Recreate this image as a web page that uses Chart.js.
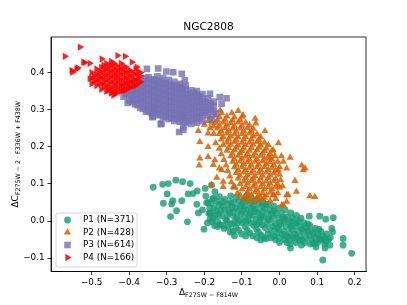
<!DOCTYPE html>
<html>
<head>
<meta charset="UTF-8">
<title>NGC2808</title>
<script src="https://cdn.jsdelivr.net/npm/chart.js"></script>
<style>
  body { margin: 0; background: #fff; }
  canvas { display: block; }
</style>
</head>
<body>
<canvas id="chart" width="407" height="305"></canvas>
<script>
const labels = ['P1 (N=371)', 'P2 (N=428)', 'P3 (N=614)', 'P4 (N=166)'];
const xTicks = [-0.5, -0.4, -0.3, -0.2, -0.1, 0.0, 0.1, 0.2];
const yTicks = [-0.1, 0.0, 0.1, 0.2, 0.3, 0.4];
const xRange = [-0.608, 0.230];
const yRange = [-0.136, 0.496];

// P1 (circles)
const p1 = [
  [-0.336,0.091],[-0.311,0.099],[-0.296,0.101],[-0.276,0.110],[-0.258,0.106],[-0.238,0.101],[-0.299,0.073],
  [-0.309,0.048],[-0.287,0.046],[-0.284,0.055],[-0.260,0.055],[-0.274,0.028],[-0.290,0.012],[-0.245,-0.002],
  [-0.201,-0.022],[-0.216,0.022],[-0.220,0.045],[-0.243,0.073],[-0.230,0.074],[-0.219,0.081],[-0.198,0.088],
  [-0.196,0.067],[-0.172,0.079],[-0.181,0.097],[-0.194,0.049],[-0.185,0.021],[-0.205,0.030],[-0.178,0.060],
  [-0.190,0.050],[-0.188,0.020],[-0.192,-0.005],[-0.175,0.062],[-0.174,0.035],[-0.177,0.008],[-0.173,-0.012],
  [-0.160,0.045],[-0.162,0.018],[-0.158,-0.010],[-0.145,0.058],[-0.146,0.030],[-0.143,0.004],[-0.147,-0.020],
  [-0.130,0.050],[-0.132,0.022],[-0.128,-0.008],[-0.131,-0.030],[-0.115,0.064],[-0.117,0.036],[-0.113,0.010],
  [-0.116,-0.018],[-0.100,0.045],[-0.102,0.020],[-0.098,-0.005],[-0.101,-0.035],[-0.085,0.055],[-0.087,0.030],
  [-0.083,0.002],[-0.086,-0.025],[-0.070,0.040],[-0.072,0.015],[-0.068,-0.012],[-0.071,-0.040],[-0.055,0.048],
  [-0.057,0.022],[-0.053,-0.003],[-0.056,-0.030],[-0.040,0.035],[-0.042,0.008],[-0.038,-0.018],[-0.041,-0.045],
  [-0.025,0.030],[-0.027,0.002],[-0.023,-0.025],[-0.010,0.022],[-0.012,-0.005],[-0.008,-0.032],[-0.011,-0.050],
  [0.005,0.020],[0.003,-0.010],[0.007,-0.035],[0.020,0.012],[0.018,-0.015],[0.022,-0.042],[0.019,-0.058],
  [0.035,0.008],[0.033,-0.022],[0.037,-0.045],[0.050,0.000],[0.048,-0.028],[0.052,-0.052],[0.065,-0.005],
  [0.063,-0.030],[0.067,-0.058],[0.080,-0.012],[0.078,-0.038],[0.082,-0.062],[0.095,-0.020],[0.093,-0.045],
  [0.097,-0.070],[0.110,-0.028],[0.108,-0.050],[0.125,-0.035],[0.123,-0.055],
  [-0.182,0.048],[-0.183,0.022],[-0.180,-0.002],[-0.167,0.052],[-0.168,0.028],[-0.165,0.000],[-0.152,0.040],
  [-0.153,0.014],[-0.151,-0.012],[-0.137,0.045],[-0.138,0.015],[-0.136,-0.015],[-0.122,0.050],[-0.123,0.024],
  [-0.121,-0.004],[-0.124,-0.028],[-0.107,0.055],[-0.108,0.028],[-0.106,0.002],[-0.109,-0.025],[-0.092,0.040],
  [-0.093,0.012],[-0.091,-0.015],[-0.077,0.048],[-0.078,0.022],[-0.076,-0.005],[-0.079,-0.032],[-0.062,0.032],
  [-0.063,0.005],[-0.061,-0.022],[-0.047,0.040],[-0.048,0.015],[-0.046,-0.010],[-0.049,-0.038],[-0.032,0.020],
  [-0.033,-0.008],[-0.031,-0.035],[-0.017,0.012],[-0.018,-0.015],[-0.016,-0.040],[-0.002,0.008],[-0.003,-0.022],
  [-0.001,-0.045],[0.012,0.000],[0.011,-0.028],[0.013,-0.050],[0.027,-0.005],[0.026,-0.032],[0.028,-0.050],
  [0.042,-0.012],[0.041,-0.036],[0.043,-0.058],[0.057,-0.015],[0.056,-0.042],[0.058,-0.065],[0.072,-0.020],
  [0.071,-0.046],[0.087,-0.028],[0.086,-0.052],[0.102,-0.035],[0.101,-0.058],[0.117,-0.042],
  [-0.186,0.035],[-0.170,0.015],[-0.156,0.030],[-0.140,0.000],[-0.126,0.036],[-0.112,-0.005],[-0.095,0.058],
  [-0.096,0.028],[-0.081,0.015],[-0.066,0.054],[-0.066,0.026],[-0.051,0.010],[-0.036,0.045],[-0.036,-0.048],
  [-0.021,0.018],[-0.006,-0.018],[0.009,0.010],[0.016,-0.040],[0.031,0.000],[0.045,-0.045],[0.060,-0.050],
  [0.075,-0.028],[0.090,-0.060],[0.105,-0.045],[0.120,-0.062],[-0.023,-0.045],[0.000,-0.058],[-0.060,-0.045],
  [-0.090,-0.040],[-0.120,-0.040],
  [-0.030,0.045],[-0.015,0.040],[0.000,0.035],[0.015,0.030],[0.030,0.022],[0.045,0.015],[-0.045,0.052],
  [-0.060,0.058],[-0.075,0.062],[-0.090,0.066],[-0.130,0.068],[-0.160,0.066],
  [-0.185,0.005],[-0.165,-0.015],[-0.150,0.052],[-0.135,0.030],[-0.120,0.012],[-0.105,0.040],[-0.090,0.000],
  [-0.075,0.035],[-0.060,-0.008],[-0.045,0.025],[-0.030,0.005],[-0.015,0.028],[0.000,-0.005],[0.015,0.005],
  [0.030,-0.015],[0.045,-0.005],[0.060,-0.022],[0.075,-0.008],[0.090,-0.035],[0.105,-0.022],[0.120,-0.048],
  [0.135,-0.045],[0.130,-0.050],
  [-0.050,-0.051],[0.028,-0.062],[0.029,-0.073],[0.079,0.013],[0.107,0.013],[0.123,0.005],[0.143,0.009],
  [0.139,-0.020],[0.141,-0.029],[0.169,-0.047],[0.169,-0.065],[0.192,-0.087],[0.115,-0.105],[0.134,-0.065],
  [0.121,-0.073],[0.112,-0.051],[0.094,-0.060],[0.057,0.008]
];

// P2 (triangles)
const p2 = [
  [-0.160,0.280],[-0.140,0.282],[-0.120,0.279],[-0.100,0.281],
  [-0.170,0.265],[-0.150,0.266],[-0.130,0.264],[-0.110,0.266],[-0.090,0.265],
  [-0.165,0.250],[-0.145,0.251],[-0.125,0.249],[-0.105,0.250],[-0.085,0.251],[-0.070,0.249],
  [-0.160,0.235],[-0.140,0.236],[-0.120,0.234],[-0.100,0.235],[-0.080,0.236],[-0.060,0.234],
  [-0.155,0.220],[-0.135,0.221],[-0.115,0.219],[-0.095,0.220],[-0.075,0.221],[-0.055,0.219],
  [-0.150,0.205],[-0.130,0.206],[-0.110,0.204],[-0.090,0.205],[-0.070,0.206],[-0.050,0.204],[-0.030,0.205],
  [-0.140,0.190],[-0.120,0.191],[-0.100,0.189],[-0.080,0.190],[-0.060,0.191],[-0.040,0.189],[-0.020,0.190],
  [-0.130,0.175],[-0.110,0.176],[-0.090,0.174],[-0.070,0.175],[-0.050,0.176],[-0.030,0.174],[-0.012,0.175],
  [-0.125,0.160],[-0.105,0.161],[-0.085,0.159],[-0.065,0.160],[-0.045,0.161],[-0.025,0.159],[-0.005,0.160],
  [-0.120,0.145],[-0.100,0.146],[-0.080,0.144],[-0.060,0.145],[-0.040,0.146],[-0.020,0.144],[0.000,0.145],
  [-0.115,0.130],[-0.095,0.131],[-0.075,0.129],[-0.055,0.130],[-0.035,0.131],[-0.015,0.129],
  [-0.110,0.115],[-0.090,0.116],[-0.070,0.114],[-0.050,0.115],[-0.030,0.116],[-0.010,0.114],
  [-0.105,0.100],[-0.085,0.101],[-0.065,0.099],[-0.045,0.100],[-0.025,0.101],[-0.005,0.099],
  [-0.100,0.085],[-0.080,0.086],[-0.060,0.084],[-0.040,0.085],[-0.020,0.086],
  [-0.075,0.070],[-0.055,0.071],[-0.035,0.069],[-0.015,0.070],
  [-0.065,0.055],[-0.045,0.056],[-0.025,0.054],
  [-0.165,0.272],[-0.145,0.273],[-0.125,0.271],[-0.105,0.272],
  [-0.160,0.257],[-0.140,0.258],[-0.120,0.256],[-0.100,0.257],[-0.080,0.258],
  [-0.155,0.242],[-0.135,0.243],[-0.115,0.241],[-0.095,0.242],[-0.075,0.243],
  [-0.150,0.227],[-0.130,0.228],[-0.110,0.226],[-0.090,0.227],[-0.070,0.228],[-0.050,0.226],
  [-0.140,0.212],[-0.120,0.213],[-0.100,0.211],[-0.080,0.212],[-0.060,0.213],[-0.040,0.211],
  [-0.135,0.197],[-0.115,0.198],[-0.095,0.196],[-0.075,0.197],[-0.055,0.198],[-0.035,0.196],
  [-0.125,0.182],[-0.105,0.183],[-0.085,0.181],[-0.065,0.182],[-0.045,0.183],[-0.025,0.181],
  [-0.120,0.167],[-0.100,0.168],[-0.080,0.166],[-0.060,0.167],[-0.040,0.168],[-0.020,0.166],
  [-0.115,0.152],[-0.095,0.153],[-0.075,0.151],[-0.055,0.152],[-0.035,0.153],[-0.015,0.151],
  [-0.110,0.137],[-0.090,0.138],[-0.070,0.136],[-0.050,0.137],[-0.030,0.138],[-0.010,0.136],
  [-0.105,0.122],[-0.085,0.123],[-0.065,0.121],[-0.045,0.122],[-0.025,0.123],
  [-0.095,0.107],[-0.075,0.108],[-0.055,0.106],[-0.035,0.107],[-0.015,0.108],
  [-0.090,0.092],[-0.070,0.093],[-0.050,0.091],[-0.030,0.092],[-0.010,0.093],
  [-0.085,0.077],[-0.065,0.078],[-0.045,0.076],[-0.025,0.077],
  [-0.060,0.062],[-0.040,0.063],
  [-0.170,0.210],[-0.160,0.195],[-0.155,0.180],[-0.148,0.165],[-0.142,0.150],[-0.138,0.135],[-0.132,0.120],
  [-0.128,0.105],[-0.120,0.090],[-0.112,0.075],[-0.175,0.235],[-0.180,0.265],[-0.185,0.280],[-0.172,0.285],
  [-0.105,0.070],[-0.095,0.060],[-0.080,0.055],[0.000,0.125],[0.003,0.110],[0.000,0.090],[-0.005,0.075],
  [-0.010,0.060],[0.005,0.175],[0.010,0.160],[-0.190,0.270],[-0.200,0.260],[-0.185,0.250],
  [-0.154,0.291],[-0.127,0.291],[-0.110,0.297],[-0.097,0.285],[-0.065,0.276],[-0.063,0.263],[-0.039,0.242],
  [-0.003,0.210],[0.028,0.171],[0.059,0.150],[0.068,0.142],[0.041,0.108],[-0.216,0.243],[-0.212,0.213],
  [-0.190,0.200],[-0.212,0.169],[-0.214,0.150],[-0.190,0.173],[-0.172,0.164],[-0.176,0.151],[-0.160,0.142],
  [-0.167,0.117],[-0.150,0.106],[-0.181,0.097],[-0.119,0.092],[-0.150,0.092],[-0.123,0.092],[-0.088,0.070],
  [-0.052,0.065],[-0.017,0.070],[0.019,0.070],[0.081,0.067],[0.094,0.065],[0.006,0.043],[0.019,0.052],
  [0.063,0.137],[0.045,0.079],[0.008,0.094],[0.023,0.070],[0.010,0.043],[-0.083,0.070],[-0.176,0.255],
  [-0.190,0.236],[-0.158,0.298],[-0.154,0.137],[-0.003,0.137],[0.019,0.142],[-0.026,0.169],[-0.017,0.191]
];

// P3 (squares)
const p3 = [
  [-0.415,0.335],[-0.415,0.350],[-0.415,0.365],
  [-0.400,0.325],[-0.400,0.340],[-0.400,0.355],[-0.400,0.370],
  [-0.385,0.315],[-0.385,0.330],[-0.385,0.345],[-0.385,0.360],[-0.385,0.375],
  [-0.370,0.305],[-0.370,0.320],[-0.370,0.335],[-0.370,0.350],[-0.370,0.365],[-0.370,0.380],
  [-0.355,0.295],[-0.355,0.310],[-0.355,0.325],[-0.355,0.340],[-0.355,0.355],[-0.355,0.370],[-0.355,0.385],
  [-0.340,0.290],[-0.340,0.305],[-0.340,0.320],[-0.340,0.335],[-0.340,0.350],[-0.340,0.365],[-0.340,0.380],
  [-0.325,0.285],[-0.325,0.300],[-0.325,0.315],[-0.325,0.330],[-0.325,0.345],[-0.325,0.360],[-0.325,0.375],[-0.325,0.390],
  [-0.310,0.280],[-0.310,0.295],[-0.310,0.310],[-0.310,0.325],[-0.310,0.340],[-0.310,0.355],[-0.310,0.370],[-0.310,0.385],
  [-0.295,0.275],[-0.295,0.290],[-0.295,0.305],[-0.295,0.320],[-0.295,0.335],[-0.295,0.350],[-0.295,0.365],[-0.295,0.380],
  [-0.280,0.270],[-0.280,0.285],[-0.280,0.300],[-0.280,0.315],[-0.280,0.330],[-0.280,0.345],[-0.280,0.360],[-0.280,0.375],
  [-0.265,0.268],[-0.265,0.283],[-0.265,0.298],[-0.265,0.313],[-0.265,0.328],[-0.265,0.343],[-0.265,0.358],[-0.265,0.370],
  [-0.250,0.265],[-0.250,0.280],[-0.250,0.295],[-0.250,0.310],[-0.250,0.325],[-0.250,0.340],[-0.250,0.355],[-0.250,0.365],
  [-0.235,0.262],[-0.235,0.277],[-0.235,0.292],[-0.235,0.307],[-0.235,0.322],[-0.235,0.337],[-0.235,0.352],
  [-0.220,0.265],[-0.220,0.280],[-0.220,0.295],[-0.220,0.310],[-0.220,0.325],[-0.220,0.340],[-0.220,0.350],
  [-0.205,0.270],[-0.205,0.285],[-0.205,0.300],[-0.205,0.315],[-0.205,0.330],[-0.205,0.342],
  [-0.190,0.285],[-0.190,0.300],[-0.190,0.315],[-0.190,0.330],
  [-0.175,0.295],[-0.175,0.310],[-0.175,0.322],
  [-0.408,0.342],[-0.408,0.357],
  [-0.393,0.322],[-0.393,0.337],[-0.393,0.352],[-0.393,0.367],
  [-0.378,0.312],[-0.378,0.327],[-0.378,0.342],[-0.378,0.357],[-0.378,0.372],
  [-0.363,0.302],[-0.363,0.317],[-0.363,0.332],[-0.363,0.347],[-0.363,0.362],[-0.363,0.377],
  [-0.348,0.297],[-0.348,0.312],[-0.348,0.327],[-0.348,0.342],[-0.348,0.357],[-0.348,0.372],[-0.348,0.387],
  [-0.333,0.292],[-0.333,0.307],[-0.333,0.322],[-0.333,0.337],[-0.333,0.352],[-0.333,0.367],[-0.333,0.382],
  [-0.318,0.287],[-0.318,0.302],[-0.318,0.317],[-0.318,0.332],[-0.318,0.347],[-0.318,0.362],[-0.318,0.377],
  [-0.303,0.282],[-0.303,0.297],[-0.303,0.312],[-0.303,0.327],[-0.303,0.342],[-0.303,0.357],[-0.303,0.372],
  [-0.288,0.277],[-0.288,0.292],[-0.288,0.307],[-0.288,0.322],[-0.288,0.337],[-0.288,0.352],[-0.288,0.367],
  [-0.273,0.275],[-0.273,0.290],[-0.273,0.305],[-0.273,0.320],[-0.273,0.335],[-0.273,0.350],[-0.273,0.365],
  [-0.258,0.272],[-0.258,0.287],[-0.258,0.302],[-0.258,0.317],[-0.258,0.332],[-0.258,0.347],[-0.258,0.360],
  [-0.243,0.270],[-0.243,0.285],[-0.243,0.300],[-0.243,0.315],[-0.243,0.330],[-0.243,0.345],
  [-0.228,0.272],[-0.228,0.287],[-0.228,0.302],[-0.228,0.317],[-0.228,0.332],[-0.228,0.345],
  [-0.213,0.277],[-0.213,0.292],[-0.213,0.307],[-0.213,0.322],[-0.213,0.336],
  [-0.198,0.292],[-0.198,0.307],[-0.198,0.322],
  [-0.183,0.300],[-0.183,0.315],
  [-0.353,0.410],[-0.323,0.411],[-0.301,0.403],[-0.283,0.401],[-0.260,0.397],[-0.252,0.379],[-0.185,0.343],
  [-0.159,0.334],[-0.141,0.331],[-0.154,0.316],[-0.337,0.282],[-0.316,0.261],[-0.267,0.240],[-0.256,0.246],
  [-0.404,0.318],[-0.331,0.303],[-0.338,0.280],[-0.314,0.263],[-0.260,0.280],[-0.256,0.254],[-0.170,0.290],
  [-0.180,0.275]
];

// P4 (right-pointing triangles)
const p4 = [
  [-0.500,0.370],[-0.500,0.385],[-0.500,0.400],
  [-0.487,0.365],[-0.487,0.380],[-0.487,0.395],[-0.487,0.410],
  [-0.474,0.355],[-0.474,0.370],[-0.474,0.385],[-0.474,0.400],[-0.474,0.415],
  [-0.461,0.350],[-0.461,0.365],[-0.461,0.380],[-0.461,0.395],[-0.461,0.410],[-0.461,0.425],
  [-0.448,0.345],[-0.448,0.360],[-0.448,0.375],[-0.448,0.390],[-0.448,0.405],[-0.448,0.420],[-0.448,0.430],
  [-0.435,0.345],[-0.435,0.360],[-0.435,0.375],[-0.435,0.390],[-0.435,0.405],[-0.435,0.420],
  [-0.422,0.350],[-0.422,0.365],[-0.422,0.380],[-0.422,0.395],[-0.422,0.410],[-0.422,0.425],
  [-0.409,0.355],[-0.409,0.370],[-0.409,0.385],[-0.409,0.400],[-0.409,0.415],
  [-0.396,0.360],[-0.396,0.375],[-0.396,0.390],[-0.396,0.405],
  [-0.383,0.365],[-0.383,0.380],[-0.383,0.395],[-0.383,0.410],
  [-0.370,0.375],[-0.370,0.390],[-0.370,0.400],
  [-0.494,0.377],[-0.494,0.392],
  [-0.481,0.372],[-0.481,0.387],[-0.481,0.402],
  [-0.468,0.362],[-0.468,0.377],[-0.468,0.392],[-0.468,0.407],[-0.468,0.420],
  [-0.455,0.357],[-0.455,0.372],[-0.455,0.387],[-0.455,0.402],[-0.455,0.417],
  [-0.442,0.352],[-0.442,0.367],[-0.442,0.382],[-0.442,0.397],[-0.442,0.412],[-0.442,0.425],
  [-0.429,0.352],[-0.429,0.367],[-0.429,0.382],[-0.429,0.397],[-0.429,0.412],
  [-0.416,0.357],[-0.416,0.372],[-0.416,0.387],[-0.416,0.402],[-0.416,0.417],
  [-0.403,0.362],[-0.403,0.377],[-0.403,0.392],[-0.403,0.407],
  [-0.390,0.367],[-0.390,0.382],[-0.390,0.397],
  [-0.377,0.372],[-0.377,0.387],[-0.377,0.402],
  [-0.531,0.469],[-0.571,0.444],[-0.518,0.427],[-0.537,0.413],[-0.551,0.401],[-0.505,0.425],[-0.473,0.437],
  [-0.431,0.446],[-0.411,0.444],[-0.393,0.428],[-0.380,0.415],[-0.456,0.352],[-0.438,0.343],[-0.411,0.352],
  [-0.505,0.384],[-0.540,0.410],[-0.522,0.428],[-0.447,0.348],[-0.442,0.339],[-0.416,0.352],[-0.553,0.406]
];

const colors = ['rgba(27,158,119,0.82)', 'rgba(217,95,2,0.86)', 'rgba(117,112,179,0.8)', 'rgba(255,0,0,0.86)'];
const FONT = '"DejaVu Sans", sans-serif';

function tickText(v) {
  const s = Math.abs(v).toFixed(1);
  return v < -1e-9 ? '\u2212' + s : s;
}

function drawSub(ctx, main, sub, cx, cy) {
  ctx.font = '9px ' + FONT;
  const w1 = ctx.measureText(main).width;
  ctx.font = '6.3px ' + FONT;
  const w2 = ctx.measureText(sub).width;
  let x = cx - (w1 + w2) / 2;
  ctx.textAlign = 'left';
  ctx.textBaseline = 'alphabetic';
  ctx.font = '9px ' + FONT;
  ctx.fillText(main, x, cy + 3);
  ctx.font = '6.3px ' + FONT;
  ctx.fillText(sub, x + w1, cy + 5);
}

function marker(ctx, i, x, y) {
  ctx.fillStyle = colors[i];
  ctx.beginPath();
  if (i === 0) {
    ctx.arc(x, y, 3.4, 0, Math.PI * 2);
  } else if (i === 1) {
    ctx.moveTo(x, y - 4.2); ctx.lineTo(x + 3.7, y + 2.1); ctx.lineTo(x - 3.7, y + 2.1);
  } else if (i === 2) {
    ctx.rect(x - 3.3, y - 3.3, 6.6, 6.6);
  } else {
    ctx.moveTo(x + 4.2, y); ctx.lineTo(x - 2.1, y - 3.7); ctx.lineTo(x - 2.1, y + 3.7);
  }
  ctx.closePath();
  ctx.fill();
}

const decor = {
  id: 'decor',
  afterDraw(chart) {
    const ctx = chart.ctx;
    const a = chart.chartArea;
    ctx.save();
    ctx.strokeStyle = '#000';
    ctx.lineWidth = 0.8;
    ctx.strokeRect(a.left, a.top, a.right - a.left, a.bottom - a.top);

    ctx.fillStyle = '#000';
    ctx.font = '10.6px ' + FONT;
    ctx.textAlign = 'center';
    ctx.textBaseline = 'middle';
    ctx.fillText('NGC2808', (a.left + a.right) / 2, 27.5);

    drawSub(ctx, '\u0394', 'F275W \u2212 F814W', (a.left + a.right) / 2, 292);

    ctx.save();
    ctx.translate(15, (a.top + a.bottom) / 2);
    ctx.rotate(-Math.PI / 2);
    ctx.fillStyle = '#000';
    drawSub(ctx, '\u0394C', 'F275W \u2212 2 \u00b7 F336W + F438W', 0, 0);
    ctx.restore();

    // legend box
    ctx.fillStyle = 'rgba(255,255,255,0.8)';
    ctx.strokeStyle = '#cccccc';
    ctx.lineWidth = 0.8;
    ctx.beginPath();
    ctx.roundRect(56, 213, 81, 54, 2);
    ctx.fill();
    ctx.stroke();
    const rows = [220, 232.5, 245, 257.5];
    labels.forEach((t, i) => {
      marker(ctx, i, 67.5, rows[i]);
      ctx.fillStyle = '#000';
      ctx.font = '8.8px ' + FONT;
      ctx.textAlign = 'left';
      ctx.textBaseline = 'middle';
      ctx.fillText(t, 83, rows[i]);
    });
    ctx.restore();
  }
};

const axisCommon = {
  type: 'linear',
  grid: { drawOnChartArea: false, drawTicks: true, tickLength: 3.5, color: '#000', lineWidth: 0.8 },
  border: { display: true, color: '#000', width: 0.8 },
  ticks: { color: '#000', font: { family: FONT, size: 8.8 }, callback: tickText, autoSkip: false, maxRotation: 0 }
};

const pt = (arr) => arr.map(p => ({ x: p[0], y: p[1] }));

new Chart(document.getElementById('chart'), {
  type: 'scatter',
  data: {
    datasets: [
      { label: labels[0], data: pt(p1), pointStyle: 'circle', pointRadius: 3.4, backgroundColor: colors[0], borderWidth: 0, order: 4 },
      { label: labels[1], data: pt(p2), pointStyle: 'triangle', pointRadius: 4.2, backgroundColor: colors[1], borderWidth: 0, order: 3 },
      { label: labels[2], data: pt(p3), pointStyle: 'rect', pointRadius: 4.7, backgroundColor: colors[2], borderWidth: 0, order: 2 },
      { label: labels[3], data: pt(p4), pointStyle: 'triangle', pointRotation: 90, pointRadius: 4.2, backgroundColor: colors[3], borderWidth: 0, order: 1 }
    ]
  },
  options: {
    responsive: false,
    animation: false,
    events: [],
    layout: { padding: { top: 37, right: 41, left: 0, bottom: 0 } },
    plugins: { legend: { display: false }, tooltip: { enabled: false }, title: { display: false } },
    scales: {
      x: Object.assign({}, axisCommon, {
        min: xRange[0], max: xRange[1],
        ticks: Object.assign({}, axisCommon.ticks, { padding: 2 }),
        afterBuildTicks: s => { s.ticks = xTicks.map(v => ({ value: v })); },
        afterFit: s => { s.height = 33.5; }
      }),
      y: Object.assign({}, axisCommon, {
        min: yRange[0], max: yRange[1],
        ticks: Object.assign({}, axisCommon.ticks, { padding: 3 }),
        afterBuildTicks: s => { s.ticks = yTicks.map(v => ({ value: v })); },
        afterFit: s => { s.width = 51; }
      })
    }
  },
  plugins: [decor]
});
</script>
</body>
</html>
